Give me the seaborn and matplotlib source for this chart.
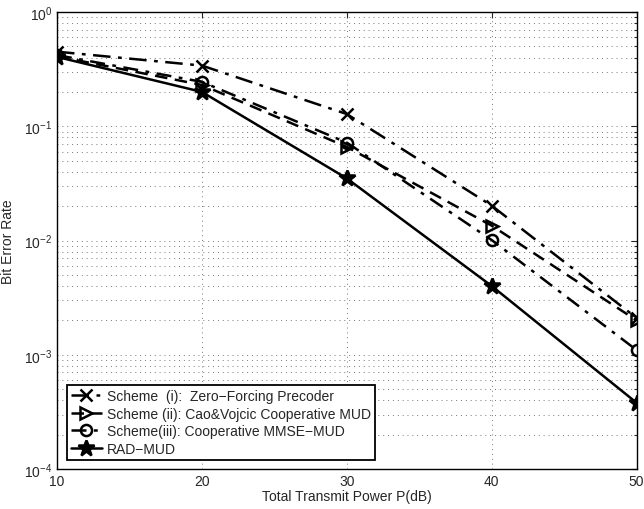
import matplotlib
matplotlib.use('Agg')
import matplotlib.pyplot as plt
import numpy as np
import seaborn as sns
import pandas as pd
from matplotlib.ticker import LogLocator, NullFormatter

power_db = [10, 20, 30, 40, 50]
ber_zf = [0.45, 0.34, 0.128, 0.0202, 0.0021]
ber_cao = [0.41, 0.23, 0.066, 0.0135, 0.0020]
ber_mmse = [0.42, 0.245, 0.072, 0.0101, 0.0011]
ber_rad = [0.405, 0.20, 0.035, 0.0040, 0.00038]

labels = ['Scheme  (i):  Zero\u2212Forcing Precoder',
          'Scheme (ii): Cao&Vojcic Cooperative MUD',
          'Scheme(iii): Cooperative MMSE\u2212MUD',
          'RAD\u2212MUD']
series = [ber_zf, ber_cao, ber_mmse, ber_rad]
markers = ['x', '>', 'o', '*']
styles = [(0, (7, 3, 1.5, 3)), (0, (5, 3)), (0, (6, 3, 1.5, 3)), '-']
msizes = [8, 9, 8, 12]

sns.set_style('white')
plt.rcParams['font.family'] = ['Liberation Sans', 'DejaVu Sans']
plt.rcParams['xtick.direction'] = 'in'
plt.rcParams['ytick.direction'] = 'in'

fig = plt.figure(figsize=(6.44, 5.10), dpi=100)
ax = fig.add_axes([0.0885, 0.0784, 0.9, 0.896])

for lab, vals, mk, ls, ms in zip(labels, series, markers, styles, msizes):
    df = pd.DataFrame({'power': power_db, 'ber': vals})
    filled = mk == '*'
    sns.lineplot(data=df, x='power', y='ber', ax=ax, color='black', linewidth=1.8,
                 linestyle=ls, marker=mk, markersize=ms, markeredgewidth=1.8,
                 markerfacecolor='black' if filled else 'none',
                 markeredgecolor='black', label=lab)

ax.set_yscale('log')
ax.set_xlim(10, 50)
ax.set_ylim(1e-4, 1)
ax.set_xticks([10, 20, 30, 40, 50])
ax.yaxis.set_major_locator(LogLocator(base=10, numticks=10))
ax.yaxis.set_minor_locator(LogLocator(base=10, subs=np.arange(2, 10), numticks=10))
ax.yaxis.set_minor_formatter(NullFormatter())
ax.grid(True, which='major', linestyle=(0, (1, 4)), color='#777777', linewidth=0.7)
ax.grid(True, which='minor', axis='y', linestyle=(0, (1, 4)), color='#777777', linewidth=0.7)
ax.tick_params(which='both', top=True, right=True, labelsize=10, length=4, width=0.8)
ax.tick_params(which='minor', length=2)
for sp in ax.spines.values():
    sp.set_color('black')
    sp.set_linewidth(1.0)

ax.set_xlabel('Total Transmit Power P(dB)', fontsize=10, labelpad=1)
ax.set_ylabel('Bit Error Rate', fontsize=10, labelpad=6)

leg = ax.legend(loc='lower left', bbox_to_anchor=(0.005, 0.005), fontsize=10,
                frameon=True, fancybox=False, edgecolor='black', framealpha=1,
                handlelength=2.2, handletextpad=0.4, borderpad=0.3, labelspacing=0.25)
leg.get_frame().set_linewidth(1.3)

plt.savefig('out.png', dpi=100)
